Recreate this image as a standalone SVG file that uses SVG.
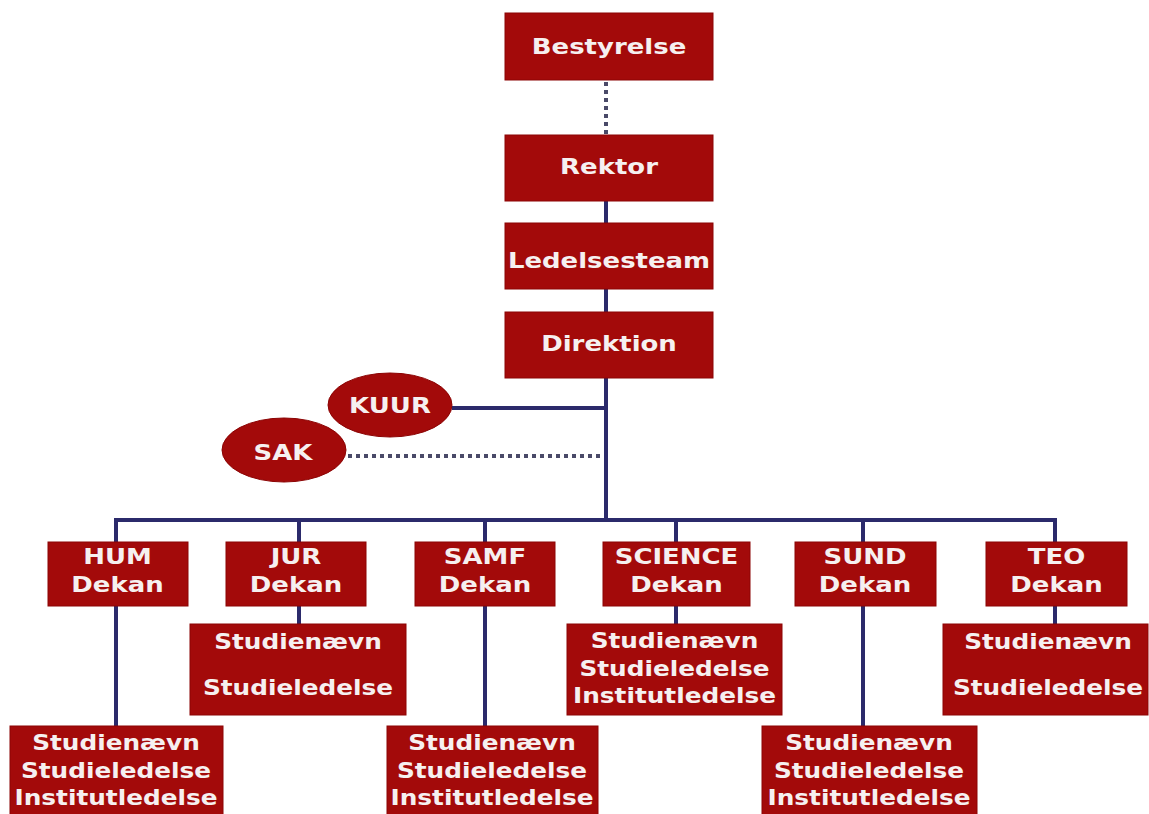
<svg xmlns="http://www.w3.org/2000/svg" width="1149" height="814" viewBox="0 0 1149 814">
<style>
.box{fill:#a30a0a;stroke:#8c0404;stroke-width:1}
.t{fill:#f6f0f0;font-family:"DejaVu Sans",Verdana,sans-serif;font-weight:bold;font-size:22px;text-anchor:middle}
.s{font-size:21px}
.ln{stroke:#2b2a6b;stroke-width:4;fill:none}
.dot{stroke:#4a4a68;stroke-width:4;fill:none;stroke-dasharray:4 4}
</style>
<rect width="1149" height="814" fill="#ffffff"/>
<g id="connectors">
<line class="dot" x1="606" y1="82" x2="606" y2="135"/>
<line class="ln" x1="606" y1="201" x2="606" y2="223"/>
<line class="ln" x1="606" y1="289" x2="606" y2="312"/>
<line class="ln" x1="606" y1="378" x2="606" y2="522"/>
<line class="ln" x1="452" y1="408" x2="606" y2="408"/>
<line class="dot" x1="348" y1="456" x2="604" y2="456"/>
<line class="ln" x1="114" y1="520" x2="1057" y2="520"/>
<line class="ln" x1="116" y1="518" x2="116" y2="726"/>
<line class="ln" x1="299" y1="518" x2="299" y2="624"/>
<line class="ln" x1="485" y1="518" x2="485" y2="726"/>
<line class="ln" x1="676" y1="518" x2="676" y2="624"/>
<line class="ln" x1="863" y1="518" x2="863" y2="726"/>
<line class="ln" x1="1055" y1="518" x2="1055" y2="624"/>
</g>
<g id="bestyrelse"><rect class="box" x="505" y="13" width="208" height="67"/><text class="t" transform="translate(609 54) scale(1.18 1)">Bestyrelse</text></g>
<g id="rektor"><rect class="box" x="505" y="135" width="208" height="66"/><text class="t" transform="translate(609 174) scale(1.18 1)">Rektor</text></g>
<g id="ledelsesteam"><rect class="box" x="505" y="223" width="208" height="66"/><text class="t" transform="translate(609 268) scale(1.18 1)">Ledelsesteam</text></g>
<g id="direktion"><rect class="box" x="505" y="312" width="208" height="66"/><text class="t" transform="translate(609 351) scale(1.18 1)">Direktion</text></g>
<g id="kuur"><ellipse class="box" cx="390" cy="405" rx="62" ry="32"/><text class="t" transform="translate(390 413) scale(1.18 1)">KUUR</text></g>
<g id="sak"><ellipse class="box" cx="284" cy="450" rx="62" ry="32"/><text class="t" transform="translate(283 460) scale(1.18 1)">SAK</text></g>
<g id="hum"><rect class="box" x="48" y="542" width="140" height="64"/><text class="t" transform="translate(117.5 564) scale(1.18 1)">HUM</text><text class="t" transform="translate(117.5 592) scale(1.18 1)">Dekan</text></g>
<g id="jur"><rect class="box" x="226" y="542" width="140" height="64"/><text class="t" transform="translate(296 564) scale(1.18 1)">JUR</text><text class="t" transform="translate(296 592) scale(1.18 1)">Dekan</text></g>
<g id="samf"><rect class="box" x="415" y="542" width="140" height="64"/><text class="t" transform="translate(485 564) scale(1.18 1)">SAMF</text><text class="t" transform="translate(485 592) scale(1.18 1)">Dekan</text></g>
<g id="science"><rect class="box" x="603" y="542" width="147" height="64"/><text class="t" transform="translate(676.5 564) scale(1.18 1)">SCIENCE</text><text class="t" transform="translate(676.5 592) scale(1.18 1)">Dekan</text></g>
<g id="sund"><rect class="box" x="795" y="542" width="141" height="64"/><text class="t" transform="translate(865 564) scale(1.18 1)">SUND</text><text class="t" transform="translate(865 592) scale(1.18 1)">Dekan</text></g>
<g id="teo"><rect class="box" x="986" y="542" width="141" height="64"/><text class="t" transform="translate(1056.5 564) scale(1.18 1)">TEO</text><text class="t" transform="translate(1056.5 592) scale(1.18 1)">Dekan</text></g>
<g id="jur-sub"><rect class="box" x="190" y="624" width="216" height="91"/><text class="t s" transform="translate(298 649) scale(1.18 1)">Studienævn</text><text class="t s" transform="translate(298 695) scale(1.18 1)">Studieledelse</text></g>
<g id="science-sub"><rect class="box" x="567" y="624" width="215" height="91"/><text class="t s" transform="translate(674.5 648) scale(1.18 1)">Studienævn</text><text class="t s" transform="translate(674.5 676) scale(1.18 1)">Studieledelse</text><text class="t s" transform="translate(674.5 703) scale(1.18 1)">Institutledelse</text></g>
<g id="teo-sub"><rect class="box" x="943" y="624" width="205" height="91"/><text class="t s" transform="translate(1048 649) scale(1.18 1)">Studienævn</text><text class="t s" transform="translate(1048 695) scale(1.18 1)">Studieledelse</text></g>
<g id="hum-sub"><rect class="box" x="10" y="726" width="213" height="90"/><text class="t s" transform="translate(116 750) scale(1.18 1)">Studienævn</text><text class="t s" transform="translate(116 778) scale(1.18 1)">Studieledelse</text><text class="t s" transform="translate(116 805) scale(1.18 1)">Institutledelse</text></g>
<g id="samf-sub"><rect class="box" x="387" y="726" width="211" height="90"/><text class="t s" transform="translate(492 750) scale(1.18 1)">Studienævn</text><text class="t s" transform="translate(492 778) scale(1.18 1)">Studieledelse</text><text class="t s" transform="translate(492 805) scale(1.18 1)">Institutledelse</text></g>
<g id="sund-sub"><rect class="box" x="762" y="726" width="215" height="90"/><text class="t s" transform="translate(869 750) scale(1.18 1)">Studienævn</text><text class="t s" transform="translate(869 778) scale(1.18 1)">Studieledelse</text><text class="t s" transform="translate(869 805) scale(1.18 1)">Institutledelse</text></g>
</svg>
